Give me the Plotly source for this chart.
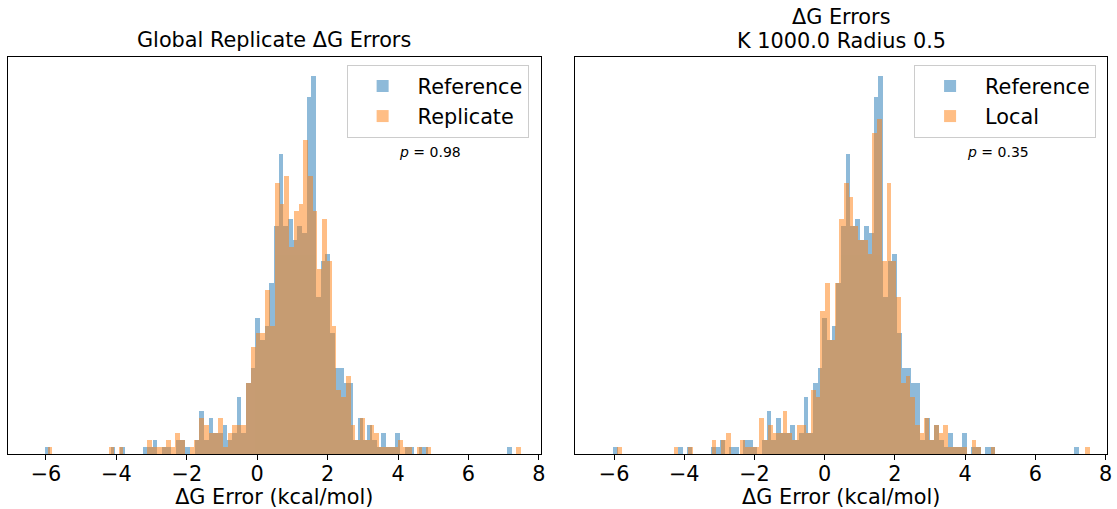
import numpy as np
import plotly.graph_objects as go

# ---------------- data (histogram counts) ----------------
n_bins = 100
ref_range = (-6.02, 7.24)      # Reference ΔG errors, min / max
rep_range = (-5.955, 7.495)    # Replicate ΔG errors, min / max
loc_range = (-5.904, 7.566)    # Local ΔG errors, min / max

ref_counts = [
    1, 0, 0, 0, 0, 0, 0, 0, 0, 0,
    0, 0, 0, 0, 1, 0, 1, 0, 0, 0,
    0, 1, 1, 2, 0, 1, 1, 0, 2, 2,
    1, 0, 2, 6, 2, 5, 3, 3, 4, 2,
    3, 8, 3, 10, 12, 19, 16, 18, 24, 32,
    42, 32, 33, 30, 32, 31, 50, 53, 22, 27,
    28, 17, 12, 12, 10, 10, 2, 5, 2, 4,
    2, 1, 3, 1, 1, 3, 0, 1, 1, 0,
    1, 1, 0, 0, 0, 0, 0, 0, 0, 0,
    0, 0, 0, 0, 0, 0, 0, 0, 0, 1,
]
rep_counts = [
    1, 0, 0, 0, 0, 0, 0, 0, 0, 0,
    0, 0, 0, 1, 0, 1, 0, 0, 0, 0,
    0, 2, 1, 1, 1, 2, 1, 3, 2, 0,
    1, 2, 5, 4, 3, 3, 5, 1, 3, 4,
    4, 4, 10, 15, 17, 17, 23, 18, 38, 35,
    39, 29, 34, 35, 44, 39, 34, 26, 33, 27,
    18, 9, 8, 11, 4, 2, 5, 2, 4, 3,
    1, 1, 1, 1, 2, 1, 1, 0, 1, 0,
    1, 0, 0, 0, 0, 0, 0, 0, 0, 0,
    0, 0, 0, 0, 0, 0, 0, 0, 0, 1,
]
loc_counts = [
    1, 0, 0, 0, 0, 0, 0, 0, 0, 0,
    0, 0, 1, 0, 0, 1, 0, 0, 0, 0,
    2, 0, 2, 3, 0, 0, 2, 1, 1, 1,
    5, 2, 4, 3, 3, 6, 3, 2, 4, 4,
    3, 9, 8, 20, 24, 16, 24, 33, 38, 36,
    32, 30, 30, 28, 45, 47, 27, 38, 27, 22,
    10, 11, 8, 4, 3, 5, 2, 4, 3, 4,
    1, 1, 1, 1, 0, 2, 1, 0, 0, 1,
    0, 0, 0, 0, 0, 0, 0, 0, 0, 0,
    0, 0, 0, 0, 0, 0, 0, 0, 0, 1,
]
left_title = "Global Replicate ΔG Errors"
right_title_1 = "ΔG Errors"
right_title_2 = "K 1000.0 Radius 0.5"
x_label = "ΔG Error (kcal/mol)"
p_left = "0.98"
p_right = "0.35"
tick_vals = [-6, -4, -2, 0, 2, 4, 6, 8]
tick_text = ["\u22126", "\u22124", "\u22122", "0", "2", "4", "6", "8"]

# ---------------- helpers ----------------
def bins(rng):
    edges = np.linspace(rng[0], rng[1], n_bins + 1)
    return (edges[:-1] + edges[1:]) / 2, edges[1] - edges[0]

BLUE = "#1f77b4"
ORANGE = "#ff7f0e"
FONT = "DejaVu Sans"
W, H = 1117, 509

def px_x(p):
    return p / W

def px_y(p):
    return 1 - p / H

fig = go.Figure()

ref_c, ref_w = bins(ref_range)
rep_c, rep_w = bins(rep_range)
loc_c, loc_w = bins(loc_range)

fig.add_trace(go.Bar(x=ref_c, y=ref_counts, width=ref_w, name="Reference",
                     marker=dict(color=BLUE, line=dict(width=0)), opacity=0.5,
                     xaxis="x", yaxis="y", legend="legend"))
fig.add_trace(go.Bar(x=rep_c, y=rep_counts, width=rep_w, name="Replicate",
                     marker=dict(color=ORANGE, line=dict(width=0)), opacity=0.5,
                     xaxis="x", yaxis="y", legend="legend"))
fig.add_trace(go.Bar(x=ref_c, y=ref_counts, width=ref_w, name="Reference",
                     marker=dict(color=BLUE, line=dict(width=0)), opacity=0.5,
                     xaxis="x2", yaxis="y2", legend="legend2"))
fig.add_trace(go.Bar(x=loc_c, y=loc_counts, width=loc_w, name="Local",
                     marker=dict(color=ORANGE, line=dict(width=0)), opacity=0.5,
                     xaxis="x2", yaxis="y2", legend="legend2"))

ymax = max(max(ref_counts), max(rep_counts), max(loc_counts)) * 1.05

xaxis_common = dict(
    tickvals=tick_vals, ticktext=tick_text, ticks="outside", ticklen=5, tickwidth=1,
    tickcolor="black", showline=True, mirror=True, linecolor="black", linewidth=1,
    showgrid=False, zeroline=False, tickfont=dict(family=FONT, size=20.8, color="black"),
    ticklabelstandoff=-4,
    title=dict(text=x_label, font=dict(family=FONT, size=20.8, color="black"), standoff=4),
)
yaxis_common = dict(
    range=[0, ymax], showticklabels=False, ticks="", showline=True, mirror=True,
    linecolor="black", linewidth=1, showgrid=False, zeroline=False,
    domain=[px_y(454), px_y(57)],
)

legend_common = dict(
    bgcolor="white", bordercolor="#cccccc", borderwidth=1,
    font=dict(family=FONT, size=20.8, color="black"),
    xanchor="right", yanchor="top", itemsizing="constant", itemwidth=60,
    tracegroupgap=0,
)

fig.update_layout(
    width=W, height=H, margin=dict(l=0, r=0, t=0, b=0),
    paper_bgcolor="white", plot_bgcolor="white",
    barmode="overlay", bargap=0,
    font=dict(family=FONT, color="black"),
    xaxis=dict(domain=[px_x(8), px_x(543)], range=[-7.08, 8.05], anchor="y", **xaxis_common),
    yaxis=dict(anchor="x", **yaxis_common),
    xaxis2=dict(domain=[px_x(578), px_x(1112)], range=[-7.1, 8.04], anchor="y2", **xaxis_common),
    yaxis2=dict(anchor="x2", **yaxis_common),
    legend=dict(x=px_x(531), y=px_y(65), **legend_common),
    legend2=dict(x=px_x(1101), y=px_y(65), **legend_common),
    annotations=[
        dict(text=left_title, x=px_x(275.5), y=px_y(40), xref="paper", yref="paper",
             showarrow=False, xanchor="center", yanchor="middle",
             font=dict(family=FONT, size=20.8, color="black")),
        dict(text=right_title_1, x=px_x(845), y=px_y(17), xref="paper", yref="paper",
             showarrow=False, xanchor="center", yanchor="middle",
             font=dict(family=FONT, size=20.8, color="black")),
        dict(text=right_title_2, x=px_x(845), y=px_y(41), xref="paper", yref="paper",
             showarrow=False, xanchor="center", yanchor="middle",
             font=dict(family=FONT, size=20.8, color="black")),
        dict(text="<i>p</i> = " + p_left, x=px_x(432), y=px_y(152), xref="paper", yref="paper",
             showarrow=False, xanchor="center", yanchor="middle",
             font=dict(family=FONT, size=14, color="black")),
        dict(text="<i>p</i> = " + p_right, x=px_x(1002), y=px_y(152), xref="paper", yref="paper",
             showarrow=False, xanchor="center", yanchor="middle",
             font=dict(family=FONT, size=14, color="black")),
    ],
)

fig.write_html("out.html")
